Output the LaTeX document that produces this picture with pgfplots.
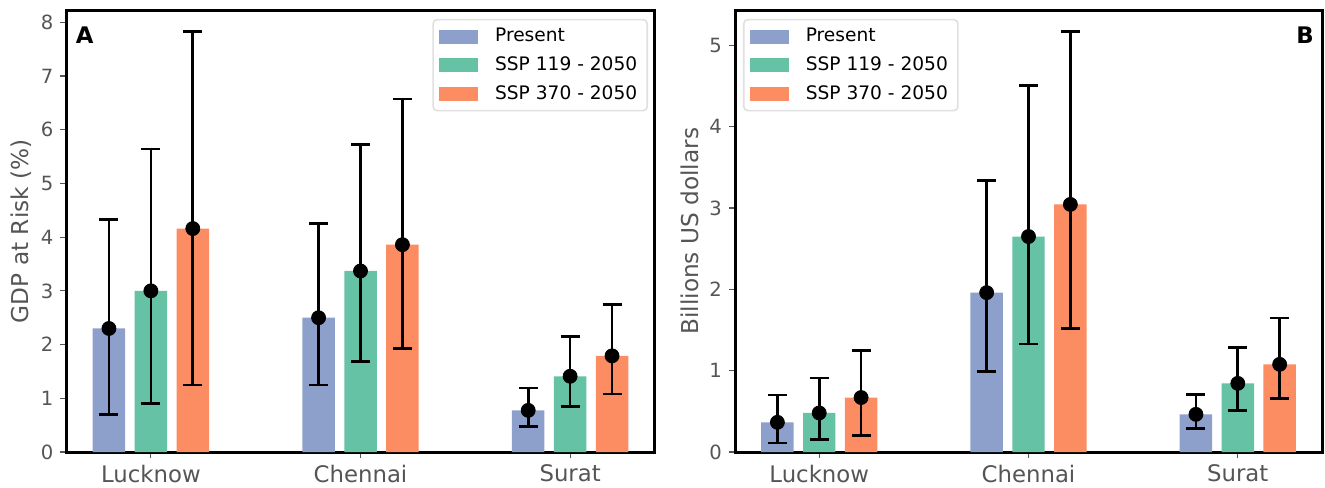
\documentclass[border=0pt]{standalone}
\usepackage{fontspec}
\setmainfont{DejaVu Sans}
\usepackage{pgfplots}
\usepackage{pgfplotstable}
\pgfplotsset{compat=1.18}

\definecolor{cpres}{HTML}{8DA0CB}
\definecolor{cssp1}{HTML}{66C2A5}
\definecolor{cssp3}{HTML}{FC8D62}
\definecolor{tickgray}{HTML}{555555}

% panel A: GDP at risk (%), columns: category, value, lower, upper
\pgfplotstableread{
x y lo hi
0 2.30 0.70 4.33
1 2.50 1.25 4.25
2 0.775 0.47 1.19
}\gdpPres
\pgfplotstableread{
x y lo hi
0 3.00 0.90 5.64
1 3.37 1.69 5.72
2 1.41 0.85 2.15
}\gdpOne
\pgfplotstableread{
x y lo hi
0 4.16 1.25 7.83
1 3.86 1.93 6.57
2 1.79 1.08 2.75
}\gdpThree

% panel B: billions US dollars
\pgfplotstableread{
x y lo hi
0 0.365 0.11 0.70
1 1.96 0.99 3.34
2 0.463 0.287 0.71
}\usdPres
\pgfplotstableread{
x y lo hi
0 0.48 0.15 0.91
1 2.65 1.33 4.51
2 0.844 0.51 1.287
}\usdOne
\pgfplotstableread{
x y lo hi
0 0.67 0.205 1.25
1 3.045 1.52 5.17
2 1.078 0.656 1.648
}\usdThree

\pgfplotsset{
  panel/.style={
    scale only axis,
    height=220.75pt,
    xmin=-0.4025, xmax=2.4025, ymin=0,
    xtick={0,1,2},
    xticklabels={Lucknow,Chennai,Surat},
    tick pos=left,
    tick align=outside,
    major tick length=3pt,
    tick style={color=tickgray, line width=0.6pt},
    axis line style={line width=1.5pt, black},
    /pgf/number format/assume math mode=true,
    yticklabel style={font=\fontsize{9.8}{11}\selectfont, text=tickgray},
    xticklabel style={font=\fontsize{11.4}{13}\selectfont, text=tickgray},
    every axis y label/.style={at={([xshift=-22.75pt]rel axis cs:0,0.5)}, rotate=90, anchor=center,
      font=\fontsize{11.6}{13}\selectfont, text=tickgray},
    legend cell align=left,
    legend image code/.code={
      \path[draw=none, fill=none] (0pt,0pt) -- (26pt,0pt);
      \fill[##1, draw=none, sharp corners] (0pt,-3.5pt) rectangle (19.5pt,3.5pt);},
    legend style={draw=black!12, line width=0.8pt, rounded corners=2pt,
      font=\fontsize{9.3}{11}\selectfont, text=black,
      inner xsep=3pt, inner ysep=2.3pt, row sep=1.9pt},
  },
  bar/.style={ybar, bar width=0.155, bar shift=0pt, draw=none, fill=#1, forget plot},
  err/.style={only marks, mark=*, mark size=3.5pt, black, forget plot,
    error bars/.cd, y dir=both, y explicit,
    error bar style={line width=1.35pt, black},
    error mark options={rotate=90, black, line width=1.35pt, mark size=4.75pt}},
}

\begin{document}
\begin{tikzpicture}
\useasboundingbox (-33.25pt,-17.5pt) rectangle (629.25pt,226pt);

\begin{axis}[panel, width=294pt, ymax=8.22, ytick={0,1,...,8},
  ylabel={GDP at Risk (\%)},
  legend style={at={(axis description cs:0.989,0.981)}, anchor=north east}]
\addlegendimage{fill=cpres}\addlegendentry{Present}
\addlegendimage{fill=cssp1}\addlegendentry{SSP 119 - 2050}
\addlegendimage{fill=cssp3}\addlegendentry{SSP 370 - 2050}
\addplot[bar=cpres] table[x expr=\thisrow{x}-0.2, y=y] \gdpPres;
\addplot[bar=cssp1] table[x=x, y=y] \gdpOne;
\addplot[bar=cssp3] table[x expr=\thisrow{x}+0.2, y=y] \gdpThree;
\addplot[err] table[x expr=\thisrow{x}-0.2, y=y,
  y error plus expr=\thisrow{hi}-\thisrow{y}, y error minus expr=\thisrow{y}-\thisrow{lo}] \gdpPres;
\addplot[err] table[x=x, y=y,
  y error plus expr=\thisrow{hi}-\thisrow{y}, y error minus expr=\thisrow{y}-\thisrow{lo}] \gdpOne;
\addplot[err] table[x expr=\thisrow{x}+0.2, y=y,
  y error plus expr=\thisrow{hi}-\thisrow{y}, y error minus expr=\thisrow{y}-\thisrow{lo}] \gdpThree;
\node[font=\fontsize{11.4}{13}\selectfont\bfseries] at (axis description cs:0.031,0.945) {A};
\end{axis}

\begin{axis}[panel, at={(334.25pt,0pt)}, width=293.5pt, ymax=5.43, ytick={0,1,...,5},
  ylabel={Billions US dollars},
  legend style={at={(axis description cs:0.0136,0.981)}, anchor=north west}]
\addlegendimage{fill=cpres}\addlegendentry{Present}
\addlegendimage{fill=cssp1}\addlegendentry{SSP 119 - 2050}
\addlegendimage{fill=cssp3}\addlegendentry{SSP 370 - 2050}
\addplot[bar=cpres] table[x expr=\thisrow{x}-0.2, y=y] \usdPres;
\addplot[bar=cssp1] table[x=x, y=y] \usdOne;
\addplot[bar=cssp3] table[x expr=\thisrow{x}+0.2, y=y] \usdThree;
\addplot[err] table[x expr=\thisrow{x}-0.2, y=y,
  y error plus expr=\thisrow{hi}-\thisrow{y}, y error minus expr=\thisrow{y}-\thisrow{lo}] \usdPres;
\addplot[err] table[x=x, y=y,
  y error plus expr=\thisrow{hi}-\thisrow{y}, y error minus expr=\thisrow{y}-\thisrow{lo}] \usdOne;
\addplot[err] table[x expr=\thisrow{x}+0.2, y=y,
  y error plus expr=\thisrow{hi}-\thisrow{y}, y error minus expr=\thisrow{y}-\thisrow{lo}] \usdThree;
\node[font=\fontsize{11.4}{13}\selectfont\bfseries] at (axis description cs:0.971,0.945) {B};
\end{axis}
\end{tikzpicture}
\end{document}
